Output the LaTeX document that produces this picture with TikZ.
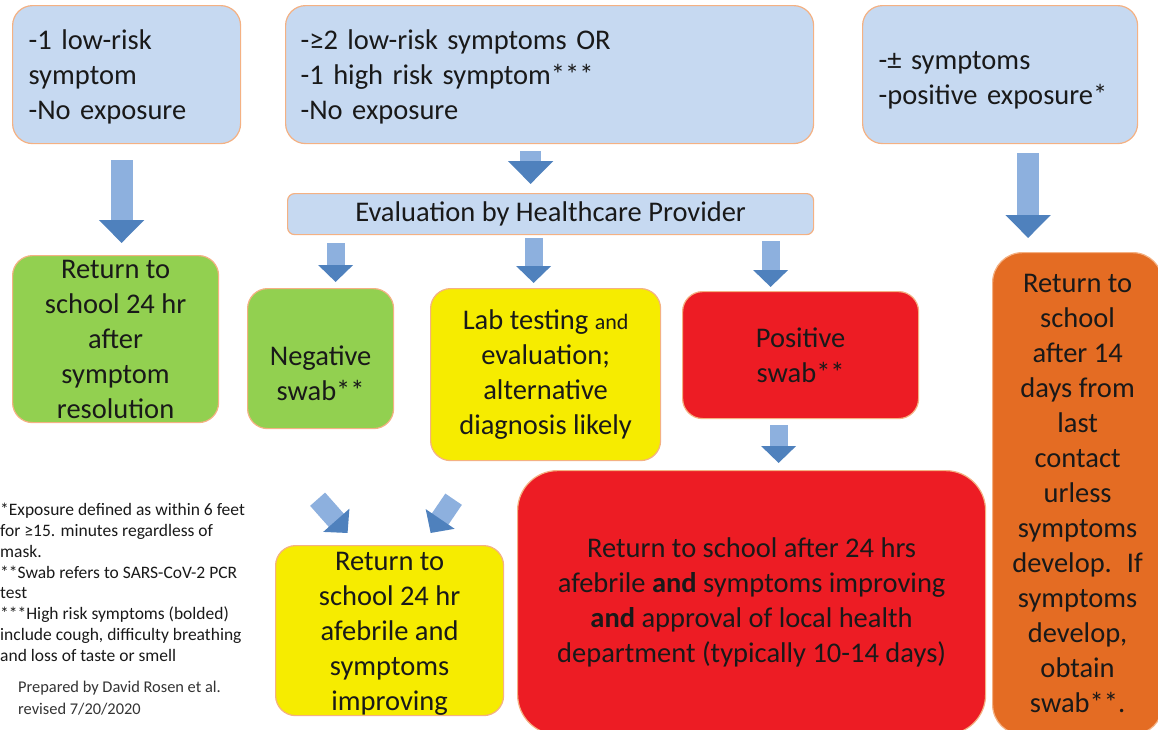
\documentclass[tikz,border=0pt]{standalone}
\usepackage{fontspec}
\setmainfont{Carlito}
\usepackage{tikz}
\usetikzlibrary{arrows.meta}
\definecolor{topblue}{RGB}{198,217,241}
\definecolor{boxborder}{RGB}{244,177,131}
\definecolor{goodgreen}{RGB}{146,208,80}
\definecolor{labyellow}{RGB}{246,236,0}
\definecolor{posred}{RGB}{237,28,36}
\definecolor{waitorange}{RGB}{228,108,35}
\definecolor{arrowlight}{RGB}{141,176,222}
\definecolor{arrowdark}{RGB}{79,129,189}
\definecolor{boxtext}{RGB}{25,25,25}
\tikzset{
	boxstyle/.style={rectangle,rounded corners=20pt,draw=boxborder,line width=1.2pt,anchor=north west,inner sep=0pt,text=boxtext,font=\fontsize{28.5}{35}\selectfont},
	bluestyle/.style={boxstyle,fill=topblue,align=left,inner xsep=16pt},
	greenstyle/.style={boxstyle,fill=goodgreen,align=center},
	yellowstyle/.style={boxstyle,fill=labyellow,align=center},
	redstyle/.style={boxstyle,fill=posred,align=center},
	orangestyle/.style={boxstyle,fill=waitorange,align=center,rounded corners=30pt},
	bigarrow/.style={line width=22pt,draw=arrowlight,-{Triangle[width=44pt,length=23pt,color=arrowdark]}},
	smallarrow/.style={line width=18pt,draw=arrowlight,-{Triangle[width=34pt,length=17pt,color=arrowdark]}},
	notestyle/.style={anchor=north west,inner sep=0pt,align=left,text=boxtext,font=\fontsize{17.5}{20.8}\selectfont}
}

\begin{document}
\begin{tikzpicture}[x=1pt,y=-1pt]
		\useasboundingbox (0,0) rectangle (1158,729);
		% first row
		\node[bluestyle,text width=196pt,minimum height=138pt] (lowrisk) at (12,5) {\rule{0pt}{24pt}-1 low-risk\\symptom\\-No exposure};
		\node[bluestyle,inner xsep=15pt,text width=498pt,minimum height=138pt] (highrisk) at (285,5) {\rule{0pt}{24pt}-≥2 low-risk symptoms OR\\-1 high risk symptom***\\-No exposure};
		\node[bluestyle,text width=243pt,minimum height=138pt] (exposed) at (862,5) {\rule{0pt}{29pt}-± symptoms\\-positive exposure*};
		\node[boxstyle,fill=topblue,rounded corners=7pt,minimum width=526pt,minimum height=41pt] (eval) at (287,193) {Evaluation by Healthcare Provider};
		% second row
		\node[greenstyle,minimum width=206pt,minimum height=167pt] (resolved) at (12,255) {Return to\\school 24 hr\\after\\symptom\\resolution};
		\node[greenstyle,minimum width=146pt,minimum height=140pt] (negative) at (247,288) {\rule{0pt}{48pt}Negative\\swab**};
		\node[yellowstyle,minimum width=230pt,minimum height=172pt] (lab) at (430,288) {Lab testing {\fontsize{22}{35}\selectfont and}\\evaluation;\\alternative\\diagnosis likely};
		\node[redstyle,minimum width=236pt,minimum height=127pt] (positive) at (682,291) {Positive\\swab**};
		\node[orangestyle,minimum width=170pt,minimum height=482pt] (quarantine) at (992,252) {Return to\\school\\after 14\\days from\\last\\contact\\urless\\symptoms\\develop.~ If\\symptoms\\develop,\\obtain\\swab**.};
		% third row
		\node[yellowstyle,minimum width=228pt,minimum height=170pt] (improving) at (275,545) {\rule{0pt}{24pt}Return to\\school 24 hr\\afebrile and\\symptoms\\improving};
		\node[redstyle,rounded corners=40pt,minimum width=468pt,minimum height=264pt] (approval) at (517,470) {Return to school after 24 hrs\\afebrile \textbf{and} symptoms improving\\\textbf{and} approval of local health\\department (typically 10-14 days)};
		% notes
		\node[notestyle] (notes) at (0,503) {*Exposure defined as within 6 feet\\for ≥15. minutes regardless of\\mask.\\**Swab refers to SARS-CoV-2 PCR\\test\\***High risk symptoms (bolded)\\include cough, difficulty breathing\\and loss of taste or smell};
		\node[notestyle,text=black!80,font=\fontsize{16.4}{22}\selectfont] (prepared) at (18,681) {Prepared by David Rosen et al.\\revised 7/20/2020};
		% arrows
		\draw[bigarrow,shorten <=16pt,shorten >=12pt] ([xshift=-5pt]lowrisk.south) -- ([xshift=-5pt]lowrisk.south |- resolved.north);
		\draw[bigarrow,line width=21pt,shorten <=7pt,shorten >=9pt] ([xshift=-19pt]highrisk.south) -- ([xshift=-19pt]highrisk.south |- eval.north);
		\draw[bigarrow,shorten <=9pt,shorten >=14pt] ([xshift=28pt]exposed.south) -- ([xshift=28pt]exposed.south |- quarantine.north);
		\draw[smallarrow,shorten <=8pt,shorten >=6pt] ([xshift=15pt]negative.north |- eval.south) -- ([xshift=15pt]negative.north);
		\draw[smallarrow,shorten <=3pt,shorten >=5pt] ([xshift=-12pt]lab.north |- eval.south) -- ([xshift=-12pt]lab.north);
		\draw[smallarrow,shorten <=6pt,shorten >=4pt] ([xshift=-30pt]positive.north |- eval.south) -- ([xshift=-30pt]positive.north);
		\draw[smallarrow,shorten <=6pt,shorten >=7pt] ([xshift=-22pt]positive.south) -- ([xshift=-22pt]positive.south |- approval.north);
		\draw[smallarrow,line width=20pt] ([xshift=-3pt,yshift=-70pt]negative.south) -- ([xshift=-42pt,yshift=12pt]improving.north);
		\draw[smallarrow,line width=20pt] ([xshift=-92pt,yshift=-38pt]lab.south) -- ([xshift=41pt,yshift=12pt]improving.north);
\end{tikzpicture}
\end{document}
